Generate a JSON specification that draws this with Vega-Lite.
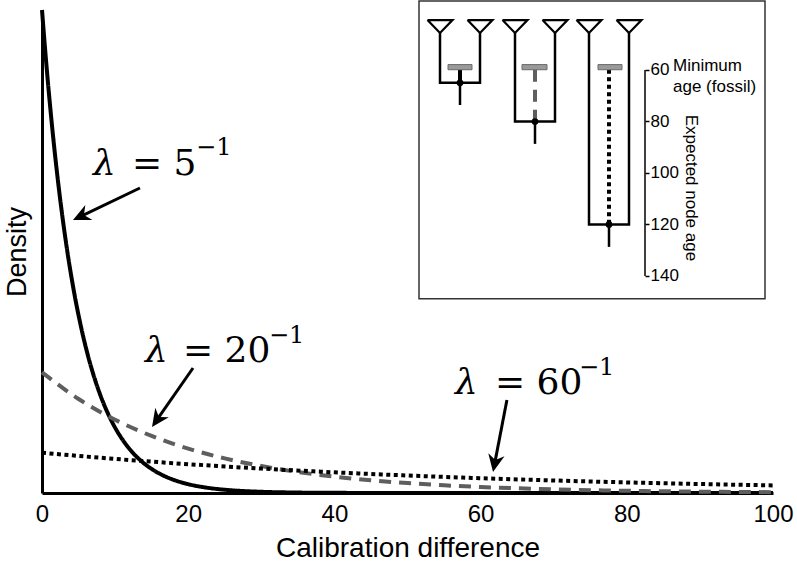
{
  "$schema": "https://vega.github.io/schema/vega-lite/v6.json",
  "width": 731,
  "height": 483,
  "autosize": {"type": "none"},
  "padding": {"left": 42, "top": 10, "right": 24, "bottom": 72},
  "background": "white",
  "config": {
    "view": {"stroke": null},
    "axis": {"grid": false, "labelFont": "Liberation Sans", "titleFont": "Liberation Sans", "titleFontWeight": "normal", "labelColor": "black", "titleColor": "black", "domainColor": "black"}
  },
  "datasets": {
    "curves": [
      {"series": "5", "x": 0, "y": 0.2}, {"series": "5", "x": 0.5, "y": 0.18097}, {"series": "5", "x": 1, "y": 0.16375}, {"series": "5", "x": 1.5, "y": 0.14816},
      {"series": "5", "x": 2, "y": 0.13406}, {"series": "5", "x": 2.5, "y": 0.12131}, {"series": "5", "x": 3, "y": 0.10976}, {"series": "5", "x": 3.5, "y": 0.09932},
      {"series": "5", "x": 4, "y": 0.08987}, {"series": "5", "x": 4.5, "y": 0.08131}, {"series": "5", "x": 5, "y": 0.07358}, {"series": "5", "x": 6, "y": 0.06024},
      {"series": "5", "x": 7, "y": 0.04932}, {"series": "5", "x": 8, "y": 0.04038}, {"series": "5", "x": 9, "y": 0.03306}, {"series": "5", "x": 10, "y": 0.02707},
      {"series": "5", "x": 11, "y": 0.02216}, {"series": "5", "x": 12, "y": 0.01814}, {"series": "5", "x": 13, "y": 0.01485}, {"series": "5", "x": 14, "y": 0.01216},
      {"series": "5", "x": 15, "y": 0.00996}, {"series": "5", "x": 16, "y": 0.00815}, {"series": "5", "x": 17, "y": 0.00667}, {"series": "5", "x": 18, "y": 0.00546},
      {"series": "5", "x": 20, "y": 0.00366}, {"series": "5", "x": 22, "y": 0.00246}, {"series": "5", "x": 24, "y": 0.00165}, {"series": "5", "x": 26, "y": 0.0011},
      {"series": "5", "x": 28, "y": 0.00074}, {"series": "5", "x": 30, "y": 0.0005}, {"series": "5", "x": 35, "y": 0.00018}, {"series": "5", "x": 40, "y": 0.00007},
      {"series": "5", "x": 50, "y": 0.00001}, {"series": "5", "x": 60, "y": 0}, {"series": "5", "x": 80, "y": 0}, {"series": "5", "x": 100, "y": 0},
      {"series": "20", "x": 0, "y": 0.05}, {"series": "20", "x": 5, "y": 0.03894}, {"series": "20", "x": 10, "y": 0.03033}, {"series": "20", "x": 15, "y": 0.02362},
      {"series": "20", "x": 20, "y": 0.01839}, {"series": "20", "x": 25, "y": 0.01433}, {"series": "20", "x": 30, "y": 0.01116}, {"series": "20", "x": 35, "y": 0.00869},
      {"series": "20", "x": 40, "y": 0.00677}, {"series": "20", "x": 45, "y": 0.00527}, {"series": "20", "x": 50, "y": 0.0041}, {"series": "20", "x": 55, "y": 0.0032},
      {"series": "20", "x": 60, "y": 0.00249}, {"series": "20", "x": 65, "y": 0.00194}, {"series": "20", "x": 70, "y": 0.00151}, {"series": "20", "x": 75, "y": 0.00118},
      {"series": "20", "x": 80, "y": 0.00092}, {"series": "20", "x": 85, "y": 0.00071}, {"series": "20", "x": 90, "y": 0.00056}, {"series": "20", "x": 95, "y": 0.00043},
      {"series": "20", "x": 100, "y": 0.00034},
      {"series": "60", "x": 0, "y": 0.01667}, {"series": "60", "x": 10, "y": 0.01411}, {"series": "60", "x": 20, "y": 0.01194}, {"series": "60", "x": 30, "y": 0.01011},
      {"series": "60", "x": 40, "y": 0.00856}, {"series": "60", "x": 50, "y": 0.00724}, {"series": "60", "x": 60, "y": 0.00613}, {"series": "60", "x": 70, "y": 0.00519},
      {"series": "60", "x": 80, "y": 0.00439}, {"series": "60", "x": 90, "y": 0.00372}, {"series": "60", "x": 100, "y": 0.00315}
    ],
    "arrows": [
      {"arrow": "a1", "x": 13.4, "y": 0.1263, "x2": 5.23, "y2": 0.11447},
      {"arrow": "a2", "x": 20.66, "y": 0.05176, "x2": 15.67, "y2": 0.03005},
      {"arrow": "a3", "x": 63.6, "y": 0.0385, "x2": 61.91, "y2": 0.01195}
    ],
    "heads": [
      {"arrow": "a1", "x": 4.24, "y": 0.113},
      {"arrow": "a2", "x": 15.05, "y": 0.02733},
      {"arrow": "a3", "x": 61.7, "y": 0.0087}
    ],
    "lambda": [
      {"part": "sym", "txt": "λ", "x": 6.98, "y": 0.13168},
      {"part": "main", "txt": "= 5", "x": 12.31, "y": 0.13168},
      {"part": "sup", "txt": "−1", "x": 21.07, "y": 0.13996},
      {"part": "sym", "txt": "λ", "x": 14.09, "y": 0.05424},
      {"part": "main", "txt": "= 20", "x": 19.29, "y": 0.05424},
      {"part": "sup", "txt": "−1", "x": 31.05, "y": 0.06211},
      {"part": "sym", "txt": "λ", "x": 56.5, "y": 0.04099},
      {"part": "main", "txt": "= 60", "x": 61.97, "y": 0.04099},
      {"part": "sup", "txt": "−1", "x": 73.46, "y": 0.04886}
    ],
    "box": [{"u": 9.425, "u2": 18.075, "age": 33.2, "age2": 148.9}],
    "tri": [
      {"t": 1, "k": 0, "u": 9.6375, "age": 40.6}, {"t": 1, "k": 1, "u": 10.2625, "age": 40.6}, {"t": 1, "k": 2, "u": 9.95, "age": 45.6}, {"t": 1, "k": 3, "u": 9.6375, "age": 40.6},
      {"t": 2, "k": 0, "u": 10.6375, "age": 40.6}, {"t": 2, "k": 1, "u": 11.2625, "age": 40.6}, {"t": 2, "k": 2, "u": 10.95, "age": 45.6}, {"t": 2, "k": 3, "u": 10.6375, "age": 40.6},
      {"t": 3, "k": 0, "u": 11.5125, "age": 40.6}, {"t": 3, "k": 1, "u": 12.1375, "age": 40.6}, {"t": 3, "k": 2, "u": 11.825, "age": 45.6}, {"t": 3, "k": 3, "u": 11.5125, "age": 40.6},
      {"t": 4, "k": 0, "u": 12.5125, "age": 40.6}, {"t": 4, "k": 1, "u": 13.1375, "age": 40.6}, {"t": 4, "k": 2, "u": 12.825, "age": 45.6}, {"t": 4, "k": 3, "u": 12.5125, "age": 40.6},
      {"t": 5, "k": 0, "u": 13.3625, "age": 40.6}, {"t": 5, "k": 1, "u": 13.9875, "age": 40.6}, {"t": 5, "k": 2, "u": 13.675, "age": 45.6}, {"t": 5, "k": 3, "u": 13.3625, "age": 40.6},
      {"t": 6, "k": 0, "u": 14.3625, "age": 40.6}, {"t": 6, "k": 1, "u": 14.9875, "age": 40.6}, {"t": 6, "k": 2, "u": 14.675, "age": 45.6}, {"t": 6, "k": 3, "u": 14.3625, "age": 40.6}
    ],
    "branches": [
      {"tree": 1, "k": 0, "u": 9.95, "age": 45.6}, {"tree": 1, "k": 1, "u": 9.95, "age": 65}, {"tree": 1, "k": 2, "u": 10.95, "age": 65}, {"tree": 1, "k": 3, "u": 10.95, "age": 45.6},
      {"tree": 2, "k": 0, "u": 11.825, "age": 45.6}, {"tree": 2, "k": 1, "u": 11.825, "age": 80}, {"tree": 2, "k": 2, "u": 12.825, "age": 80}, {"tree": 2, "k": 3, "u": 12.825, "age": 45.6},
      {"tree": 3, "k": 0, "u": 13.675, "age": 45.6}, {"tree": 3, "k": 1, "u": 13.675, "age": 120}, {"tree": 3, "k": 2, "u": 14.675, "age": 120}, {"tree": 3, "k": 3, "u": 14.675, "age": 45.6}
    ],
    "stems": [
      {"tree": 1, "u": 10.45, "age": 65, "age2": 73.6},
      {"tree": 2, "u": 12.325, "age": 80, "age2": 88.7},
      {"tree": 3, "u": 14.175, "age": 120, "age2": 128.7}
    ],
    "links": [
      {"tree": "1", "u": 10.45, "age": 59.9, "age2": 65},
      {"tree": "2", "u": 12.325, "age": 59.9, "age2": 80},
      {"tree": "3", "u": 14.175, "age": 59.9, "age2": 120}
    ],
    "fossils": [
      {"tree": 1, "u": 10.15, "u2": 10.75, "age": 57.9, "age2": 59.9},
      {"tree": 2, "u": 12.0, "u2": 12.625, "age": 57.9, "age2": 59.9},
      {"tree": 3, "u": 13.9, "u2": 14.5, "age": 57.9, "age2": 59.9}
    ],
    "nodes": [
      {"tree": 1, "u": 10.45, "age": 65},
      {"tree": 2, "u": 12.325, "age": 80},
      {"tree": 3, "u": 14.175, "age": 120}
    ],
    "axisline": [{"u": 15.075, "age": 60, "age2": 140}],
    "insettext": [
      {"kind": "h", "txt": "Minimum", "u": 15.775, "age": 58.4},
      {"kind": "h", "txt": "age (fossil)", "u": 15.775, "age": 66.6},
      {"kind": "v", "txt": "Expected node age", "u": 16.225, "age": 105.8}
    ]
  },
  "layer": [
    {
      "layer": [
        {
          "data": {"name": "curves"},
          "mark": {"type": "line", "strokeWidth": 4, "interpolate": "monotone", "strokeCap": "butt"},
          "encoding": {
            "x": {"field": "x", "type": "quantitative", "scale": {"domain": [0, 100], "nice": false},
              "axis": {"values": [0, 20, 40, 60, 80, 100], "ticks": false, "tickSize": 0, "labelPadding": 9, "labelFontSize": 24, "labelFlush": false, "domainWidth": 3, "title": "Calibration difference", "titleFontSize": 28, "titlePadding": 8}},
            "y": {"field": "y", "type": "quantitative", "scale": {"domain": [0, 0.2], "nice": false},
              "axis": {"labels": false, "ticks": false, "tickSize": 0, "domainWidth": 3, "title": "Density", "titleFontSize": 27, "titlePadding": 11}},
            "color": {"field": "series", "type": "nominal", "scale": {"domain": ["5", "20", "60"], "range": ["black", "#5e5e5e", "black"]}, "legend": null},
            "strokeDash": {"field": "series", "type": "nominal", "scale": {"domain": ["5", "20", "60"], "range": [[1, 0], [12, 8], [4, 3.5]]}, "legend": null}
          }
        },
        {
          "data": {"name": "arrows"},
          "mark": {"type": "rule", "strokeWidth": 3, "color": "black"},
          "encoding": {
            "x": {"field": "x", "type": "quantitative"}, "y": {"field": "y", "type": "quantitative"},
            "x2": {"field": "x2"}, "y2": {"field": "y2"}
          }
        },
        {
          "data": {"name": "heads"},
          "transform": [{"filter": "datum.arrow == 'a1'"}],
          "mark": {"type": "point", "shape": "M0,0L0.75,1.6L0,1.1L-0.75,1.6Z", "size": 484, "filled": true, "color": "black", "opacity": 1, "angle": 244.5},
          "encoding": {"x": {"field": "x", "type": "quantitative"}, "y": {"field": "y", "type": "quantitative"}}
        },
        {
          "data": {"name": "heads"},
          "transform": [{"filter": "datum.arrow == 'a2'"}],
          "mark": {"type": "point", "shape": "M0,0L0.75,1.6L0,1.1L-0.75,1.6Z", "size": 484, "filled": true, "color": "black", "opacity": 1, "angle": 214.8},
          "encoding": {"x": {"field": "x", "type": "quantitative"}, "y": {"field": "y", "type": "quantitative"}}
        },
        {
          "data": {"name": "heads"},
          "transform": [{"filter": "datum.arrow == 'a3'"}],
          "mark": {"type": "point", "shape": "M0,0L0.75,1.6L0,1.1L-0.75,1.6Z", "size": 484, "filled": true, "color": "black", "opacity": 1, "angle": 191},
          "encoding": {"x": {"field": "x", "type": "quantitative"}, "y": {"field": "y", "type": "quantitative"}}
        },
        {
          "data": {"name": "lambda"},
          "transform": [{"filter": "datum.part == 'sym'"}],
          "mark": {"type": "text", "font": "DejaVu Serif", "fontStyle": "italic", "fontSize": 36, "align": "left", "baseline": "alphabetic", "color": "black"},
          "encoding": {"x": {"field": "x", "type": "quantitative"}, "y": {"field": "y", "type": "quantitative"}, "text": {"field": "txt"}}
        },
        {
          "data": {"name": "lambda"},
          "transform": [{"filter": "datum.part == 'main'"}],
          "mark": {"type": "text", "font": "DejaVu Serif", "fontSize": 36, "align": "left", "baseline": "alphabetic", "color": "black"},
          "encoding": {"x": {"field": "x", "type": "quantitative"}, "y": {"field": "y", "type": "quantitative"}, "text": {"field": "txt"}}
        },
        {
          "data": {"name": "lambda"},
          "transform": [{"filter": "datum.part == 'sup'"}],
          "mark": {"type": "text", "font": "DejaVu Serif", "fontSize": 24, "align": "left", "baseline": "alphabetic", "color": "black"},
          "encoding": {"x": {"field": "x", "type": "quantitative"}, "y": {"field": "y", "type": "quantitative"}, "text": {"field": "txt"}}
        }
      ]
    },
    {
      "layer": [
        {
          "data": {"name": "box"},
          "mark": {"type": "rect", "fillOpacity": 0, "stroke": "#333333", "strokeWidth": 1.5},
          "encoding": {
            "x": {"field": "u", "type": "quantitative", "scale": {"domain": [0, 18.275], "nice": false, "zero": false}, "axis": null},
            "x2": {"field": "u2"},
            "y": {"field": "age", "type": "quantitative", "scale": {"domain": [36.7, 224.3], "nice": false, "zero": false, "reverse": true},
              "axis": {"orient": "right", "offset": -128, "values": [60, 80, 100, 120, 140], "domain": false, "ticks": true, "tickSize": 4, "tickWidth": 1.5, "tickColor": "black", "labelFontSize": 17, "labelPadding": 1, "labelFlush": false, "labelBaseline": "middle", "title": null, "grid": false}},
            "y2": {"field": "age2"}
          }
        },
        {
          "data": {"name": "axisline"},
          "mark": {"type": "rule", "strokeWidth": 1.5, "color": "black"},
          "encoding": {
            "x": {"field": "u", "type": "quantitative", "scale": {"domain": [0, 18.275], "nice": false, "zero": false}, "axis": null},
            "y": {"field": "age", "type": "quantitative", "scale": {"domain": [36.7, 224.3], "nice": false, "zero": false, "reverse": true}},
            "y2": {"field": "age2"}
          }
        },
        {
          "data": {"name": "tri"},
          "mark": {"type": "line", "strokeWidth": 2.2, "color": "black", "strokeJoin": "miter"},
          "encoding": {
            "x": {"field": "u", "type": "quantitative", "scale": {"domain": [0, 18.275], "nice": false, "zero": false}, "axis": null},
            "y": {"field": "age", "type": "quantitative", "scale": {"domain": [36.7, 224.3], "nice": false, "zero": false, "reverse": true}},
            "detail": {"field": "t", "type": "nominal"},
            "order": {"field": "k", "type": "quantitative"}
          }
        },
        {
          "data": {"name": "branches"},
          "mark": {"type": "line", "strokeWidth": 2.5, "color": "black", "strokeJoin": "miter"},
          "encoding": {
            "x": {"field": "u", "type": "quantitative", "scale": {"domain": [0, 18.275], "nice": false, "zero": false}, "axis": null},
            "y": {"field": "age", "type": "quantitative", "scale": {"domain": [36.7, 224.3], "nice": false, "zero": false, "reverse": true}},
            "detail": {"field": "tree", "type": "nominal"},
            "order": {"field": "k", "type": "quantitative"}
          }
        },
        {
          "data": {"name": "stems"},
          "mark": {"type": "rule", "strokeWidth": 2.5, "color": "black"},
          "encoding": {
            "x": {"field": "u", "type": "quantitative", "scale": {"domain": [0, 18.275], "nice": false, "zero": false}, "axis": null},
            "y": {"field": "age", "type": "quantitative", "scale": {"domain": [36.7, 224.3], "nice": false, "zero": false, "reverse": true}},
            "y2": {"field": "age2"}
          }
        },
        {
          "data": {"name": "links"},
          "mark": {"type": "rule", "strokeWidth": 4},
          "encoding": {
            "x": {"field": "u", "type": "quantitative", "scale": {"domain": [0, 18.275], "nice": false, "zero": false}, "axis": null},
            "y": {"field": "age", "type": "quantitative", "scale": {"domain": [36.7, 224.3], "nice": false, "zero": false, "reverse": true}},
            "y2": {"field": "age2"},
            "color": {"field": "tree", "type": "nominal", "scale": {"domain": ["1", "2", "3"], "range": ["black", "#777777", "black"]}, "legend": null},
            "strokeDash": {"field": "tree", "type": "nominal", "scale": {"domain": ["1", "2", "3"], "range": [[1, 0], [8, 5], [3, 3]]}, "legend": null}
          }
        },
        {
          "data": {"name": "fossils"},
          "mark": {"type": "rect", "fill": "#9a9a9a", "stroke": "#6a6a6a", "strokeWidth": 1},
          "encoding": {
            "x": {"field": "u", "type": "quantitative", "scale": {"domain": [0, 18.275], "nice": false, "zero": false}, "axis": null},
            "x2": {"field": "u2"},
            "y": {"field": "age", "type": "quantitative", "scale": {"domain": [36.7, 224.3], "nice": false, "zero": false, "reverse": true}},
            "y2": {"field": "age2"}
          }
        },
        {
          "data": {"name": "nodes"},
          "mark": {"type": "circle", "size": 45, "color": "black", "opacity": 1},
          "encoding": {
            "x": {"field": "u", "type": "quantitative", "scale": {"domain": [0, 18.275], "nice": false, "zero": false}, "axis": null},
            "y": {"field": "age", "type": "quantitative", "scale": {"domain": [36.7, 224.3], "nice": false, "zero": false, "reverse": true}}
          }
        },
        {
          "data": {"name": "insettext"},
          "transform": [{"filter": "datum.kind == 'h'"}],
          "mark": {"type": "text", "font": "Liberation Sans", "fontSize": 17, "align": "left", "baseline": "middle", "color": "black"},
          "encoding": {
            "x": {"field": "u", "type": "quantitative", "scale": {"domain": [0, 18.275], "nice": false, "zero": false}, "axis": null},
            "y": {"field": "age", "type": "quantitative", "scale": {"domain": [36.7, 224.3], "nice": false, "zero": false, "reverse": true}},
            "text": {"field": "txt"}
          }
        },
        {
          "data": {"name": "insettext"},
          "transform": [{"filter": "datum.kind == 'v'"}],
          "mark": {"type": "text", "font": "Liberation Sans", "fontSize": 17, "align": "center", "baseline": "middle", "angle": 90, "color": "black"},
          "encoding": {
            "x": {"field": "u", "type": "quantitative", "scale": {"domain": [0, 18.275], "nice": false, "zero": false}, "axis": null},
            "y": {"field": "age", "type": "quantitative", "scale": {"domain": [36.7, 224.3], "nice": false, "zero": false, "reverse": true}},
            "text": {"field": "txt"}
          }
        }
      ]
    }
  ],
  "resolve": {"scale": {"x": "independent", "y": "independent"}}
}
